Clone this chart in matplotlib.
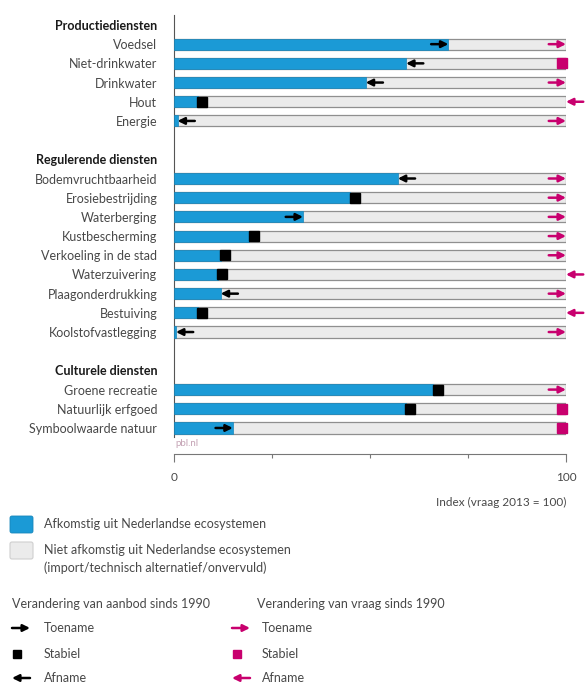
import numpy as np
import matplotlib.pyplot as plt
from matplotlib.patches import FancyBboxPatch

plt.rcParams['font.family'] = ['Lato', 'DejaVu Sans']

########################## Datos ##########################
groepen = ['Productiediensten', 'Regulerende diensten', 'Culturele diensten']
diensten = [
    ['Voedsel', 'Niet-drinkwater', 'Drinkwater', 'Hout', 'Energie'],
    ['Bodemvruchtbaarheid', 'Erosiebestrijding', 'Waterberging', 'Kustbescherming',
     'Verkoeling in de stad', 'Waterzuivering', 'Plaagonderdrukking', 'Bestuiving',
     'Koolstofvastlegging'],
    ['Groene recreatie', 'Natuurlijk erfgoed', 'Symboolwaarde natuur'],
]
# aanbod uit Nederlandse ecosystemen (index, vraag 2013 = 100)
aanbod = [70.0, 59.2, 48.9, 6.0, 0.9,
          57.1, 45.0, 32.9, 19.1, 11.9, 11.1, 11.9, 6.0, 0.5,
          66.1, 59.1, 15.0]
vraag = [100] * 17
trend_aanbod = ['toe', 'af', 'af', 'stabiel', 'af',
                'af', 'stabiel', 'toe', 'stabiel', 'stabiel', 'stabiel', 'af', 'stabiel', 'af',
                'stabiel', 'stabiel', 'toe']
trend_vraag = ['toe', 'stabiel', 'toe', 'af', 'toe',
               'toe', 'toe', 'toe', 'toe', 'toe', 'af', 'toe', 'af', 'toe',
               'toe', 'stabiel', 'stabiel']

########################## Estilo ##########################
BLAUW = '#1b9ad6'
GRIJS = '#ebebeb'
ROZE = '#c8006e'
TEKST = '#484848'
W, H = 586, 686

### Posiciones de filas (encabezado + servicios + fila vacía)
rijen, labels, kop = [], [], []
r = 0
for g, lijst in zip(groepen, diensten):
    labels.append(g); rijen.append(r); kop.append(True); r += 1
    for d in lijst:
        labels.append(d); rijen.append(r); kop.append(False); r += 1
    r += 1
dienst_rij = [ri for ri, k in zip(rijen, kop) if not k]


def pijl(a, x, y, trend, kleur, lengte, lw=1.8, ms=10):
    if trend == 'toe':
        start = x - lengte
    else:
        start = x + lengte
    a.annotate('', xy=(x, y), xytext=(start, y),
               arrowprops=dict(arrowstyle='-|>', color=kleur, lw=lw, mutation_scale=ms,
                               shrinkA=0, shrinkB=0),
               annotation_clip=False, zorder=5)


fig = plt.figure(figsize=(W / 100, H / 100), dpi=100)

### Eje principal
ax = fig.add_axes([174 / W, 1 - 437 / H, 392 / W, 422 / H])
ax.set_xlim(0, 100)
ax.set_ylim(21.47, -0.52)

ax.barh(dienst_rij, vraag, height=0.58, color=GRIJS, edgecolor='#8f8f8f', lw=0.9, zorder=2)
ax.barh(dienst_rij, aanbod, height=0.58, color=BLAUW, edgecolor='#1786bb', lw=0.5, zorder=3)

L = 4.4
for y, v, t in zip(dienst_rij, aanbod, trend_aanbod):
    if t == 'stabiel':
        ax.plot(v + 1.2, y, 's', color='black', ms=6.8, clip_on=False, zorder=5)
    else:
        pijl(ax, v, y, t, 'black', L)
for y, v, t in zip(dienst_rij, vraag, trend_vraag):
    if t == 'stabiel':
        ax.plot(v - 1.1, y, 's', color=ROZE, ms=6.8, clip_on=False, zorder=5)
    else:
        pijl(ax, v, y, t, ROZE, L)

ax.set_yticks(rijen)
ax.set_yticklabels(labels)
for tl, k in zip(ax.get_yticklabels(), kop):
    tl.set_fontsize(9)
    if k:
        tl.set_fontweight('bold')
        tl.set_color('#1a1a1a')
    else:
        tl.set_color(TEKST)
ax.tick_params(axis='y', length=0, pad=12)

ax.set_xticks([0, 100])
ax.set_xticklabels(['0', '100'])
ax.set_xticks([25, 50, 75], minor=True)
ax.tick_params(axis='x', which='major', length=6, width=0.8, color='#777777',
               labelsize=8.5, labelcolor=TEKST, pad=7)
ax.tick_params(axis='x', which='minor', length=3, width=0.8, color='#777777')

for s in ['top', 'right']:
    ax.spines[s].set_visible(False)
ax.spines['left'].set_color('#555555')
ax.spines['left'].set_linewidth(0.8)
ax.spines['bottom'].set_position(('outward', 12))
ax.spines['bottom'].set_color('#777777')
ax.spines['bottom'].set_linewidth(0.8)

fig.text(175 / W, 1 - 444 / H, 'pbl.nl', fontsize=7, color='#c4a2b4', va='center')
fig.text(566 / W, 1 - 502 / H, 'Index (vraag 2013 = 100)', fontsize=8.5, color=TEKST,
         ha='right', va='center')

### Leyenda
lg = fig.add_axes([0, 0, 1, 1])
lg.set_xlim(0, W)
lg.set_ylim(H, 0)
lg.axis('off')

lg.add_patch(FancyBboxPatch((10, 516), 23, 17, boxstyle='round,pad=0,rounding_size=2',
                            fc=BLAUW, ec='#1786bb', lw=0.6))
lg.add_patch(FancyBboxPatch((10, 542), 23, 17, boxstyle='round,pad=0,rounding_size=2',
                            fc=GRIJS, ec='#cfcfcf', lw=0.8))
lg.text(44, 524, 'Afkomstig uit Nederlandse ecosystemen', fontsize=9, color=TEKST, va='center')
lg.text(44, 550, 'Niet afkomstig uit Nederlandse ecosystemen', fontsize=9, color=TEKST, va='center')
lg.text(44, 568, '(import/technisch alternatief/onvervuld)', fontsize=9, color=TEKST, va='center')

lg.text(12, 604, 'Verandering van aanbod sinds 1990', fontsize=9, color=TEKST, va='center')
lg.text(257, 604, 'Verandering van vraag sinds 1990', fontsize=9, color=TEKST, va='center')

for x0, xt, kleur in [(12, 44, 'black'), (232, 262, ROZE)]:
    pijl(lg, x0 + 18, 628, 'toe', kleur, 18)
    lg.plot(x0 + 5, 654, 's', color=kleur, ms=6)
    pijl(lg, x0, 678, 'af', kleur, 18)
    lg.text(xt, 628, 'Toename', fontsize=9, color=TEKST, va='center')
    lg.text(xt, 654, 'Stabiel', fontsize=9, color=TEKST, va='center')
    lg.text(xt, 678, 'Afname', fontsize=9, color=TEKST, va='center')

fig.savefig('out.png', dpi=100)
